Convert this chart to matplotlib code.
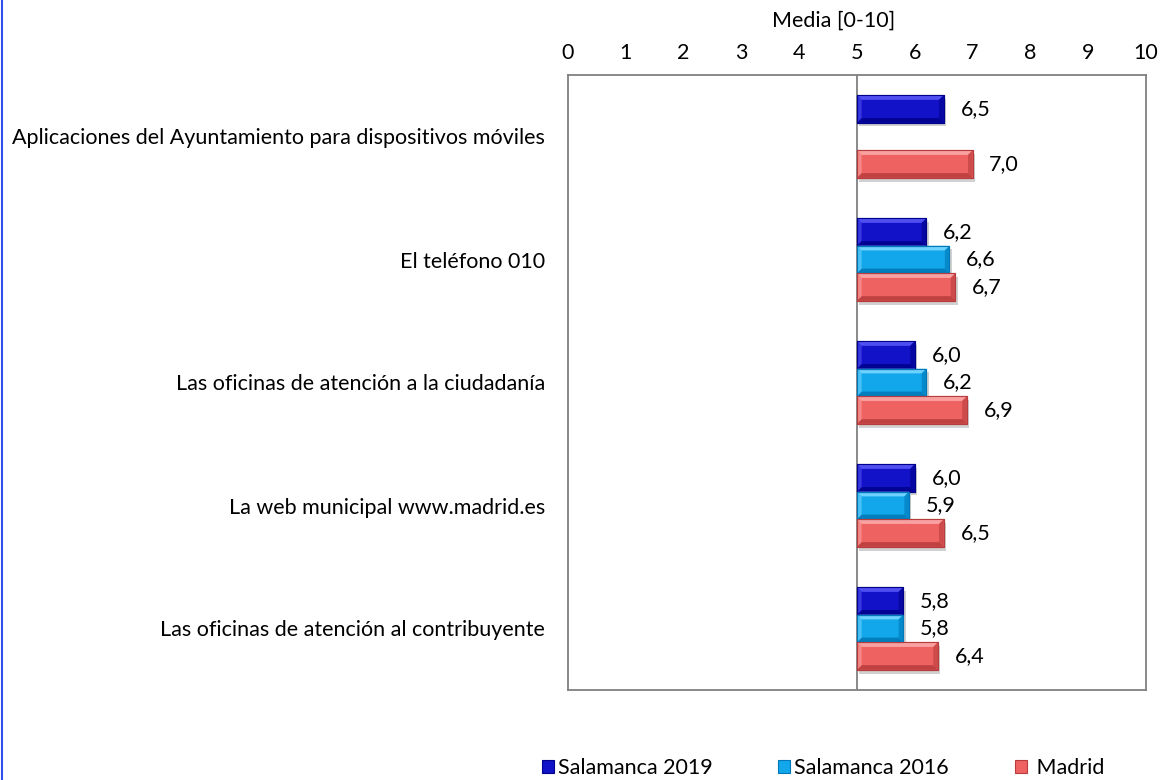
import numpy as np
import matplotlib
matplotlib.use("Agg")
import matplotlib.pyplot as plt
from matplotlib.patches import Polygon, Patch
from matplotlib.lines import Line2D

plt.rcParams['font.family'] = ['Lato', 'DejaVu Sans']

categories = [
    "Aplicaciones del Ayuntamiento para dispositivos móviles",
    "El teléfono 010",
    "Las oficinas de atención a la ciudadanía",
    "La web municipal www.madrid.es",
    "Las oficinas de atención al contribuyente",
]
series_names = ["Salamanca 2019", "Salamanca 2016", " Madrid"]
salamanca_2019 = [6.5, 6.2, 6.0, 6.0, 5.8]
salamanca_2016 = [np.nan, 6.6, 6.2, 5.9, 5.8]
madrid = [7.0, 6.7, 6.9, 6.5, 6.4]
x_ticks = list(range(0, 11))
base_value = 5

FS = 15.5

# face, light bevel, dark bevel
palette = [
    ("#1212C8", "#5050F2", "#00008A"),
    ("#12A6EA", "#6ED2FF", "#0078B8"),
    ("#EE6262", "#F9A0A0", "#B83C3C"),
]

fig = plt.figure(figsize=(11.63, 7.8), dpi=100)
ax = fig.add_axes([568 / 1163, 1 - 690 / 780, 578 / 1163, 615 / 780])

n = len(categories)
y = np.arange(n)
bar_h = 0.224
offsets = [-bar_h, 0.0, bar_h]
series = [salamanca_2019, salamanca_2016, madrid]

bx = 0.08   # bevel width in x units
by = 0.038  # bevel width in y units

for vals, off, (face, light, dark) in zip(series, offsets, palette):
    vals = np.asarray(vals, dtype=float)
    widths = vals - base_value
    bars = ax.barh(y + off, widths, height=bar_h, left=base_value,
                   color=face, edgecolor=dark, linewidth=0.8, zorder=3)
    for rect, v in zip(bars, vals):
        if np.isnan(v):
            continue
        x0, y0 = rect.get_x(), rect.get_y()
        x1, y1 = x0 + rect.get_width(), y0 + rect.get_height()
        # soft shadow
        ax.add_patch(Polygon([(x0 + 0.03, y0 + 0.03), (x1 + 0.04, y0 + 0.03),
                              (x1 + 0.04, y1 + 0.03), (x0 + 0.03, y1 + 0.03)],
                             closed=True, facecolor="#000000", alpha=0.18,
                             edgecolor="none", zorder=2))
        # bevel edges (upper edge on screen is y0, the axis is inverted)
        ax.add_patch(Polygon([(x0, y0), (x1, y0), (x1 - bx, y0 + by), (x0 + bx, y0 + by)],
                             closed=True, facecolor=light, edgecolor="none", zorder=4))
        ax.add_patch(Polygon([(x0, y1), (x1, y1), (x1 - bx, y1 - by), (x0 + bx, y1 - by)],
                             closed=True, facecolor=dark, edgecolor="none", alpha=0.85, zorder=4))
        ax.add_patch(Polygon([(x0, y0), (x0 + bx, y0 + by), (x0 + bx, y1 - by), (x0, y1)],
                             closed=True, facecolor=light, edgecolor="none", alpha=0.6, zorder=4))
        ax.add_patch(Polygon([(x1, y0), (x1 - bx, y0 + by), (x1 - bx, y1 - by), (x1, y1)],
                             closed=True, facecolor=dark, edgecolor="none", alpha=0.6, zorder=4))
        ax.add_patch(Polygon([(x0, y0), (x1, y0), (x1, y1), (x0, y1)], closed=True,
                             facecolor="none", edgecolor=dark, linewidth=0.8, zorder=5))
        ax.text(v + 0.29, rect.get_y() + rect.get_height() / 2,
                f"{v:.1f}".replace(".", ","), va="center", ha="left",
                fontsize=FS, color="black", zorder=6)

ax.axvline(base_value, color="#808080", linewidth=1.3, zorder=1)

ax.set_xlim(0, 10)
ax.set_ylim(n - 0.5, -0.5)
ax.set_xticks(x_ticks)
ax.set_xticklabels([str(t) for t in x_ticks])
ax.xaxis.tick_top()
ax.xaxis.set_label_position("top")
ax.set_xlabel("Media [0-10]", fontsize=FS)
ax.xaxis.set_label_coords(0.46, (690 - 21) / 615)
ax.xaxis.label.set_va("center")
ax.tick_params(axis="x", length=0, pad=8.5, labelsize=FS)
ax.set_yticks(y)
ax.set_yticklabels(categories)
ax.tick_params(axis="y", length=0, pad=16.5, labelsize=FS)
for s in ax.spines.values():
    s.set_color("#808080")
    s.set_linewidth(1.3)

handles = [Patch(facecolor=f, edgecolor=d, linewidth=0.8) for f, _, d in palette]
fig.legend(handles, series_names, loc="center", bbox_to_anchor=(823 / 1163, 1 - 768 / 780),
           ncol=3, frameon=False, fontsize=FS, handlelength=0.56, handleheight=0.56,
           handletextpad=0.19, columnspacing=3.05, borderaxespad=0, borderpad=0)

fig.add_artist(Line2D([1.5 / 1163, 1.5 / 1163], [0, 1], transform=fig.transFigure,
                      color="#2F4FF0", linewidth=1.5))

fig.savefig("out.png", dpi=100)
